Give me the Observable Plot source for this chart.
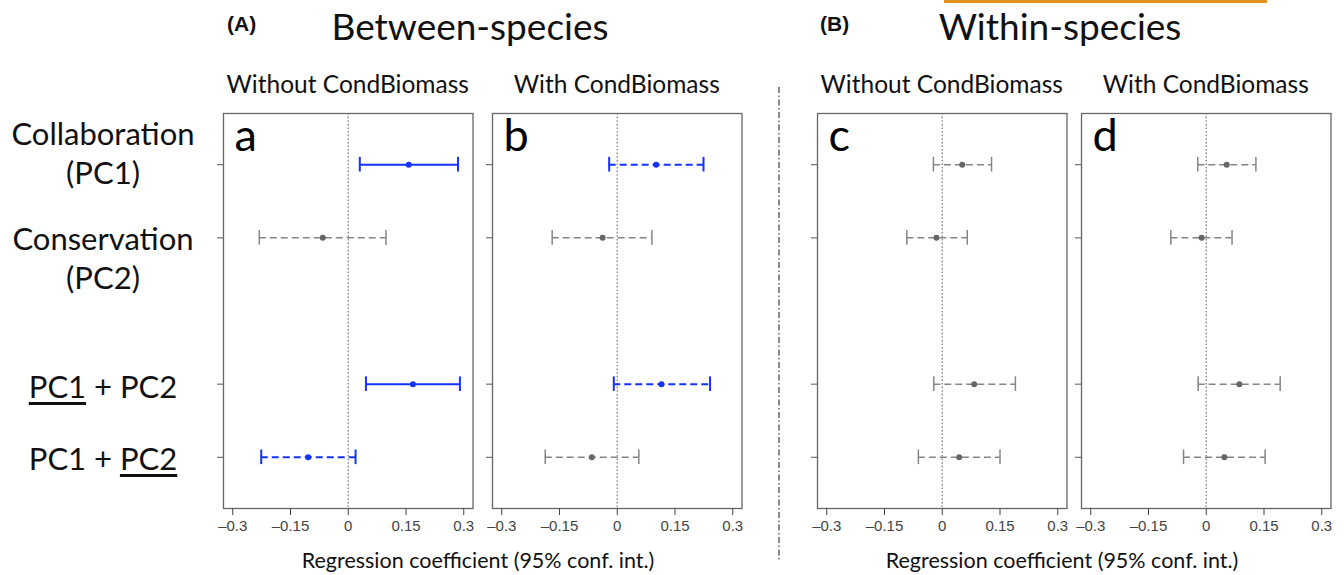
<!DOCTYPE html>
<html><head><meta charset="utf-8">
<script src="https://cdn.jsdelivr.net/npm/d3@7"></script>
<script src="https://cdn.jsdelivr.net/npm/@observablehq/plot@0.6"></script>
<style>
body{margin:0;background:#fff;}
#root{position:relative;width:1344px;height:575px;overflow:hidden;font-family:Lato,"Open Sans",sans-serif;color:#111;background:#fff;}
.t{position:absolute;white-space:nowrap;line-height:1;}
.c{transform:translateX(-50%);text-align:center;}
.panel{position:absolute;top:0;}
u{text-decoration-thickness:2.5px;text-underline-offset:4px;}
</style></head><body><div id="root"></div>
<script>
// ---------- data ----------
const rowLabelsHTML = ["Collaboration<br>(PC1)", "Conservation<br>(PC2)", "<u>PC1</u> + PC2", "PC1 + <u>PC2</u>"];
const rowPos = [1, 2, 4, 5];
const xTicks = [-0.3, -0.15, 0, 0.15, 0.3];
const panelLetters = ["a", "b", "c", "d"];
const panelSubtitles = ["Without CondBiomass", "With CondBiomass", "Without CondBiomass", "With CondBiomass"];
const groupTags = ["(A)", "(B)"];
const groupTitles = ["Between-species", "Within-species"];
const axisTitle = "Regression coefficient (95% conf. int.)";

// estimates, lower and upper 95% CI per panel (rows: PC1, PC2, PC1|PC1+PC2, PC2|PC1+PC2)
const estA = [0.157, -0.066, 0.168, -0.104];
const lowA = [0.030, -0.231, 0.046, -0.226];
const highA = [0.285, 0.098, 0.290, 0.019];
const estB = [0.101, -0.038, 0.115, -0.066];
const lowB = [-0.021, -0.169, -0.009, -0.187];
const highB = [0.224, 0.090, 0.241, 0.056];
const estC = [0.052, -0.015, 0.083, 0.044];
const lowC = [-0.023, -0.092, -0.022, -0.062];
const highC = [0.128, 0.065, 0.190, 0.150];
const estD = [0.053, -0.012, 0.086, 0.047];
const lowD = [-0.022, -0.092, -0.021, -0.059];
const highD = [0.129, 0.067, 0.192, 0.153];
// significance class and line type
const sigA = ["sig", "ns", "sig", "sig"];
const lineA = ["solid", "dashed", "solid", "dashed"];
const sigB = ["sig", "ns", "sig", "ns"];
const lineB = ["dashed", "dashed", "dashed", "dashed"];
const sigC = ["ns", "ns", "ns", "ns"];
const lineC = ["dashed", "dashed", "dashed", "dashed"];
const sigD = ["ns", "ns", "ns", "ns"];
const lineD = ["dashed", "dashed", "dashed", "dashed"];

// ---------- styling / layout ----------
const BLUE = "#1433ff", GRAY = "#858585", GRAYDOT = "#666";
const root = document.getElementById("root");
function addText(html, x, y, style, center = true) {
  const d = document.createElement("div");
  d.className = "t" + (center ? " c" : "");
  d.style.left = x + "px"; d.style.top = y + "px";
  Object.assign(d.style, style);
  d.innerHTML = html;
  root.appendChild(d);
  return d;
}
const panels = [
  [estA, lowA, highA, sigA, lineA],
  [estB, lowB, highB, sigB, lineB],
  [estC, lowC, highC, sigC, lineC],
  [estD, lowD, highD, sigD, lineD]
];
const boxLeft = [223, 492, 817, 1081];
const boxW = 249.5, ML = 30, MR = 20;
const fmt = d => d === 0 ? "0" : (d < 0 ? "\u2013" : "") + Math.abs(d);

panels.forEach(([est, lo, hi, sig, line], i) => {
  const data = rowPos.map((p, j) => ({
    pos: p, est: est[j], lo: lo[j], hi: hi[j],
    color: sig[j] === "sig" ? BLUE : GRAY,
    dot: sig[j] === "sig" ? BLUE : GRAYDOT,
    sw: sig[j] === "sig" ? 2 : 1.5,
    line: line[j]
  }));
  const svg = Plot.plot({
    width: boxW + ML + MR, height: 575,
    marginTop: 113, marginBottom: 67, marginLeft: ML, marginRight: MR,
    x: {domain: [-0.324, 0.324], label: null},
    y: {domain: [0.3, 5.7], reverse: true, label: null},
    color: {type: "identity"},
    style: {background: "transparent", overflow: "visible"},
    marks: [
      Plot.ruleX([0], {stroke: "#8a8a8a", strokeDasharray: "1.6,2", strokeWidth: 1.4}),
      Plot.ruleY(data, {filter: d => d.line === "solid", y: "pos", x1: "lo", x2: "hi", stroke: "color", strokeWidth: "sw"}),
      Plot.ruleY(data, {filter: d => d.line === "dashed", y: "pos", x1: "lo", x2: "hi", stroke: "color", strokeWidth: "sw", strokeDasharray: "7,4"}),
      Plot.ruleX(data, {x: "lo", y1: d => d.pos - 0.1, y2: d => d.pos + 0.1, stroke: "color", strokeWidth: "sw"}),
      Plot.ruleX(data, {x: "hi", y1: d => d.pos - 0.1, y2: d => d.pos + 0.1, stroke: "color", strokeWidth: "sw"}),
      Plot.dot(data, {x: "est", y: "pos", r: 3, fill: "dot", stroke: null}),
      Plot.frame({stroke: "#666", strokeWidth: 1.3}),
      Plot.axisX({ticks: xTicks, tickFormat: fmt, tickSize: 7, tickPadding: 5, fontSize: 15,
        fontFamily: "'Liberation Sans', Arial, sans-serif", color: "#444", label: null}),
      Plot.axisY({ticks: rowPos, tickSize: 6, tickFormat: () => "", color: "#555", label: null}),
      Plot.text([panelLetters[i]], {frameAnchor: "top-left", dx: 11, dy: 6, lineAnchor: "top",
        fontSize: 45, fontFamily: "Lato, 'Open Sans', sans-serif", fill: "#000"})
    ]
  });
  svg.classList.add("panel");
  svg.style.left = (boxLeft[i] - ML) + "px";
  svg.style.position = "absolute";
  root.appendChild(svg);
  addText(panelSubtitles[i], boxLeft[i] + boxW / 2, 72, {fontSize: "24.5px"});
});

// group headers
addText(groupTags[0], 227, 13, {fontSize: "21px", fontWeight: "bold", fontFamily: "'Liberation Sans', Arial"}, false);
addText(groupTitles[0], 470, 7, {fontSize: "37px"});
addText(groupTags[1], 820, 13, {fontSize: "21px", fontWeight: "bold", fontFamily: "'Liberation Sans', Arial"}, false);
addText(groupTitles[1], 1060, 7, {fontSize: "37px"});
const hl = document.createElement("div");
Object.assign(hl.style, {position: "absolute", left: "944px", top: "0px", width: "323px", height: "3px", background: "#e0901c"});
root.appendChild(hl);

// row labels
const rowTop = [113.5, 218.5, 367, 439];
rowLabelsHTML.forEach((h, j) => {
  addText(h, 103, rowTop[j], {fontSize: "31px", lineHeight: "39px"});
});

// axis titles
addText(axisTitle, 478, 550, {fontSize: "21.5px"});
addText(axisTitle, 1062, 550, {fontSize: "21.5px"});

// dash-dot separator
const sep = document.createElementNS("http://www.w3.org/2000/svg", "svg");
sep.setAttribute("width", "6"); sep.setAttribute("height", "575");
Object.assign(sep.style, {position: "absolute", left: "776px", top: "0px"});
sep.innerHTML = '<line x1="3" x2="3" y1="87" y2="562" stroke="#666" stroke-width="1.5" stroke-dasharray="6,2.5,1.5,2.5"/>';
root.appendChild(sep);
</script>
</body></html>
